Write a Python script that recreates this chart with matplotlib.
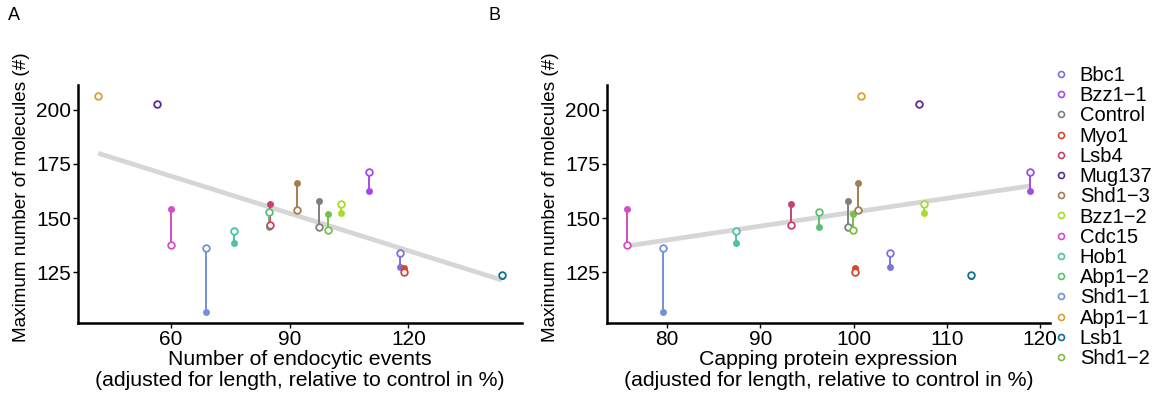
import numpy as np
import matplotlib.pyplot as plt
from matplotlib.lines import Line2D

plt.rcParams['font.family'] = ['Liberation Sans', 'DejaVu Sans']

# strains in legend order
strains = ["Bbc1", "Bzz1\u22121", "Control", "Myo1", "Lsb4", "Mug137", "Shd1\u22123",
           "Bzz1\u22122", "Cdc15", "Hob1", "Abp1\u22122", "Shd1\u22121", "Abp1\u22121",
           "Lsb1", "Shd1\u22122"]
colors = ["#7b74e0", "#a24be6", "#7f7f7f", "#d14a2c", "#c9426a", "#5b2c8e", "#a08050",
          "#a6dc2c", "#d24fc4", "#4fbfa6", "#5fbe73", "#7490d6", "#dea030", "#12708f",
          "#76c143"]

# x values: endocytic events (A) and capping protein expression (B), % of control
events = [117.8, 110.0, 97.4, 118.9, 85.0, 56.5, 91.9, 102.9, 60.1, 76.1, 84.7, 68.8, 41.7, 143.6, 99.6]
capping = [103.9, 118.9, 99.4, 100.1, 93.3, 107.0, 100.5, 107.5, 75.7, 87.4, 96.3, 79.6, 100.8, 112.6, 99.9]

# max number of molecules: open and filled points
mol_open = [133.7, 171.3, 145.8, 125.1, 146.6, 202.8, 153.5, 156.3, 137.4, 144.0, 152.7, 136.3, 206.1, 123.7, 144.3]
mol_filled = [127.6, 162.7, 157.8, 126.8, 156.6, 202.5, 166.2, 152.4, 154.0, 138.6, 145.8, 106.7, 206.4, 123.4, 152.0]

fig = plt.figure(figsize=(11.7, 3.98), dpi=100)
axA = fig.add_axes([0.0667, 0.1892, 0.3795, 0.5972])
axB = fig.add_axes([0.5188, 0.1892, 0.3786, 0.5972])


def panel(ax, xs, xlabel, xticks):
    xs = np.array(xs)
    yo = np.array(mol_open)
    yf = np.array(mol_filled)
    # linear fit through both sets of points
    k, b = np.polyfit(np.concatenate([xs, xs]), np.concatenate([yo, yf]), 1)
    xx = np.array([xs.min(), xs.max()])
    ax.plot(xx, k * xx + b, color="#d6d6d6", lw=3.4, zorder=1, solid_capstyle='butt')
    for i in range(len(xs)):
        ax.plot([xs[i], xs[i]], [yo[i], yf[i]], color=colors[i], lw=1.4, zorder=2)
        ax.plot(xs[i], yf[i], 'o', color=colors[i], ms=5, mew=0, zorder=3)
        ax.plot(xs[i], yo[i], 'o', mfc='white', mec=colors[i], ms=4.8, mew=1.3, zorder=4)
    ax.set_xticks(xticks)
    ax.set_yticks([125, 150, 175, 200])
    ax.set_xlabel(xlabel, fontsize=15.3, labelpad=1, linespacing=1.12)
    ax.set_ylabel("Maximum number of molecules (#)", fontsize=13.6)
    ax.yaxis.set_label_coords(-0.108, 0.53)
    for s in ["top", "right"]:
        ax.spines[s].set_visible(False)
    for s in ["left", "bottom"]:
        ax.spines[s].set_linewidth(1.8)
    ax.tick_params(direction='out', length=3.5, width=1, labelsize=15, pad=1.5)


panel(axA, events, "Number of endocytic events\n(adjusted for length, relative to control in %)", [60, 90, 120])
panel(axB, capping, "Capping protein expression\n(adjusted for length, relative to control in %)", [80, 90, 100, 110, 120])

fig.text(0.012, 0.96, "A", fontsize=13, va='center', ha='center')
fig.text(0.423, 0.96, "B", fontsize=13, va='center', ha='center')

handles = [Line2D([], [], marker='o', ls='none', mfc='white', mec=c, ms=4.3, mew=1.2) for c in colors]
fig.legend(handles, strains, loc='upper left', bbox_to_anchor=(0.898, 0.834), frameon=False,
           fontsize=14.5, handlelength=1.0, handletextpad=0.45, labelspacing=0.06,
           borderpad=0, borderaxespad=0)

fig.savefig("out.png", dpi=100)
